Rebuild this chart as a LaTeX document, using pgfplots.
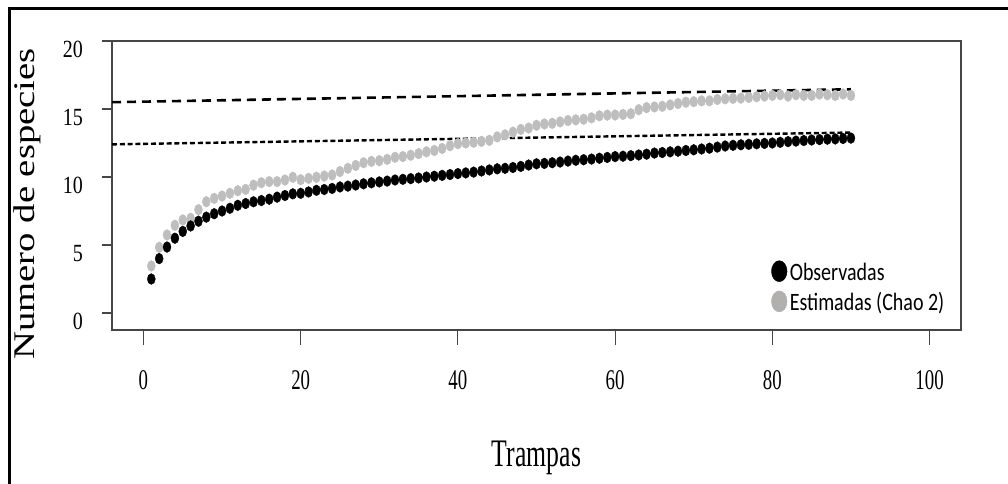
\documentclass[border=0pt]{standalone}
\usepackage{fontspec}
\setmainfont{Liberation Serif}
\newfontfamily\xtf{Liberation Serif}[FakeStretch=0.66]
\newfontfamily\ytf{Liberation Serif}[FakeStretch=0.81]
\newfontfamily\ylf{Liberation Serif}[FakeStretch=1.29]
\newfontfamily\xlf{Liberation Serif}[FakeStretch=0.66]
\newfontfamily\lgf{Carlito}[FakeStretch=0.8]
\usepackage{pgfplots}
\usepackage{pgfplotstable}
\pgfplotsset{compat=1.18}
\definecolor{ptgray}{RGB}{190,190,190}
\definecolor{leggray}{RGB}{178,175,175}
\definecolor{axgray}{RGB}{70,70,70}

\pgfplotstableread{
x obs est
1 2.5 3.46
2 4.0 4.83
3 4.85 5.74
4 5.5 6.45
5 6.0 6.84
6 6.4 6.96
7 6.75 7.6
8 7.05 8.18
9 7.3 8.43
10 7.5 8.6
11 7.7 8.8
12 7.92 8.99
13 8.05 9.09
14 8.18 9.4
15 8.27 9.58
16 8.37 9.66
17 8.52 9.66
18 8.64 9.78
19 8.76 9.98
20 8.8 9.8
21 8.9 9.9
22 9.02 9.98
23 9.08 10.07
24 9.16 10.15
25 9.27 10.4
26 9.33 10.64
27 9.41 10.85
28 9.5 11.05
29 9.57 11.15
30 9.64 11.2
31 9.7 11.3
32 9.78 11.45
33 9.83 11.5
34 9.88 11.6
35 9.93 11.72
36 10.0 11.85
37 10.06 11.95
38 10.12 12.1
39 10.18 12.3
40 10.25 12.45
41 10.3 12.5
42 10.36 12.55
43 10.44 12.62
44 10.52 12.7
45 10.6 12.95
46 10.64 13.1
47 10.7 13.3
48 10.78 13.5
49 10.88 13.6
50 10.97 13.8
51 11.0 13.9
52 11.05 13.95
53 11.1 14.05
54 11.17 14.15
55 11.23 14.2
56 11.27 14.25
57 11.32 14.35
58 11.38 14.5
59 11.44 14.55
60 11.5 14.56
61 11.53 14.6
62 11.57 14.65
63 11.62 14.95
64 11.68 15.1
65 11.76 15.15
66 11.8 15.2
67 11.85 15.3
68 11.9 15.4
69 11.95 15.5
70 12.0 15.54
71 12.06 15.6
72 12.12 15.6
73 12.2 15.7
74 12.28 15.75
75 12.33 15.78
76 12.37 15.8
77 12.4 15.85
78 12.44 15.9
79 12.47 15.95
80 12.5 16.0
81 12.55 16.05
82 12.6 15.95
83 12.64 16.05
84 12.68 16.0
85 12.72 16.0
86 12.75 16.1
87 12.78 16.05
88 12.8 16.0
89 12.83 16.1
90 12.86 16.0
}\datatab

\begin{document}
\begin{tikzpicture}
\useasboundingbox (0pt,0pt) rectangle (1008pt,483pt);
\draw[line width=3pt] (9pt,-5pt) -- (9pt,474pt) -- (1015pt,474pt);
\begin{axis}[
  at={(112pt,153pt)}, anchor=south west,
  scale only axis, width=849pt, height=289pt,
  xmin=-4, xmax=104, ymin=-1.25, ymax=20,
  xtick={0,20,40,60,80,100}, ytick={0,5,10,15,20},
  tick pos=left, tick align=outside,
  major tick length=10pt,
  xtick style={/pgfplots/major tick length=15pt},
  axis line style={axgray, line width=1.2pt},
  every tick/.style={axgray, line width=1.2pt},
  /pgf/number format/assume math mode=true,
  xticklabel style={font=\fontsize{28.5}{30}\xtf, anchor=base, inner sep=0pt},
  xticklabel shift=49pt,
  yticklabel style={font=\fontsize{24.7}{26}\ytf, anchor=north east, inner sep=0pt},
  yticklabel shift=19pt,
  xlabel={Trampas},
  xlabel style={font=\fontsize{39}{40}\xlf, at={(axis description cs:0.5,-0.473)}, anchor=base, inner sep=0pt},
  ylabel={Numero de especies},
  ylabel style={font=\fontsize{30}{32}\ylf, at={(axis description cs:-0.0907,0.436)}, anchor=base, inner sep=0pt},
  legend style={at={(axis description cs:0.7765,0.2405)}, anchor=north west,
    draw=none, fill=none, inner sep=0pt, outer sep=0pt,
    font=\fontsize{25}{27}\lgf,
    nodes={inner sep=0pt, text height=18pt, text depth=6pt},
    cells={anchor=base west}, row sep=4.5pt, column sep=2.5pt},
  reverse legend,
]
\addplot[only marks, mark=*, mark size=4pt, color=ptgray,
  mark options={yscale=1.35, fill=ptgray, draw=ptgray},
  legend image code/.code={\fill[leggray] (7.8pt,9pt) ellipse [x radius=7.8pt, y radius=10.5pt];}]
  table[x=x, y=est] {\datatab};
\addlegendentry{Estimadas (Chao 2)}
\addplot[only marks, mark=*, mark size=4pt, color=black,
  mark options={yscale=1.35, fill=black, draw=black},
  legend image code/.code={\fill[black] (7.8pt,9pt) ellipse [x radius=7.8pt, y radius=10.5pt];}]
  table[x=x, y=obs] {\datatab};
\addlegendentry{Observadas}
\addplot[forget plot, black, line width=2.6pt, dash pattern=on 9pt off 6pt]
  coordinates {(-4,15.5) (90,16.45)};
\addplot[forget plot, black, line width=2.4pt, dash pattern=on 5pt off 2.8pt]
  coordinates {(-4,12.4) (90,13.27)};
\end{axis}
\end{tikzpicture}
\end{document}
